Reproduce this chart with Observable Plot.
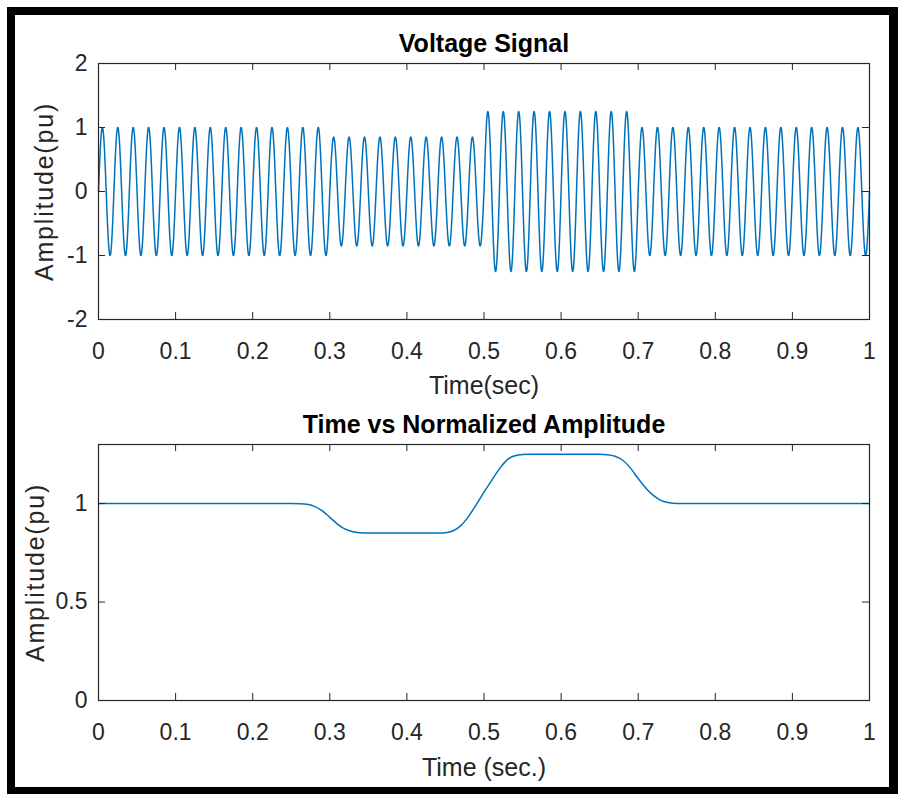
<!DOCTYPE html>
<html>
<head>
<meta charset="utf-8">
<script src="https://cdn.jsdelivr.net/npm/d3@7"></script>
<script src="https://cdn.jsdelivr.net/npm/@observablehq/plot@0.6"></script>
<style>
  html, body { margin: 0; padding: 0; background: #fff; }
  #figure { position: relative; width: 898px; height: 794px; background: #fff; overflow: hidden; }
  #figure .panel { position: absolute; left: 0; }
  #border {
    position: absolute; left: 7px; top: 7px; right: 0; bottom: 0;
    border-style: solid; border-color: #000;
    border-width: 8px 9px 7px 8px;
    box-sizing: border-box; pointer-events: none;
  }
</style>
</head>
<body>
<div id="figure">
  <div id="top" class="panel" style="top:0"></div>
  <div id="bottom" class="panel" style="top:397px"></div>
  <div id="border"></div>
</div>
<script>
// Voltage signal: a 50 Hz sine whose amplitude changes in steps (sag, then swell)
const frequencyHz = 50;
const segStart = [0.0, 0.3, 0.5, 0.7];
const segEnd = [0.3, 0.5, 0.7, 1.0];
const segAmplitude = [1.0, 0.85, 1.25, 1.0];

// Normalized amplitude envelope (pu) read at these instants
const envTime = [0.00, 0.10, 0.20, 0.25, 0.26, 0.27, 0.28, 0.29, 0.30, 0.31, 0.32, 0.33, 0.34, 0.35, 0.40,
                 0.44, 0.45, 0.46, 0.47, 0.48, 0.49, 0.50, 0.51, 0.52, 0.53, 0.54, 0.55, 0.56, 0.60,
                 0.65, 0.66, 0.67, 0.68, 0.69, 0.70, 0.71, 0.72, 0.73, 0.74, 0.75, 0.80, 0.90, 1.00];
const envValue = [1.000, 1.000, 1.000, 1.000, 0.999, 0.996, 0.986, 0.964, 0.930, 0.896, 0.870, 0.857, 0.852, 0.850, 0.850,
                  0.850, 0.852, 0.862, 0.888, 0.935, 0.995, 1.058, 1.118, 1.176, 1.222, 1.243, 1.249, 1.250, 1.250,
                  1.250, 1.248, 1.240, 1.220, 1.180, 1.127, 1.078, 1.040, 1.015, 1.004, 1.000, 1.000, 1.000, 1.000];

// Axis ticks
const xTicks = [0, 0.1, 0.2, 0.3, 0.4, 0.5, 0.6, 0.7, 0.8, 0.9, 1];
const yTicksTop = [-2, -1, 0, 1, 2];
const yTicksBottom = [0, 0.5, 1];

// Build the sampled waveform from the segment table
const dt = 0.0002;
const voltage = [];
for (let i = 0; i < segStart.length; i++) {
  const n = Math.round((segEnd[i] - segStart[i]) / dt);
  for (let k = 0; k <= n; k++) {
    const t = segStart[i] + k * dt;
    voltage.push({t, v: segAmplitude[i] * Math.sin(2 * Math.PI * frequencyHz * t)});
  }
}
const envelope = envTime.map((t, i) => ({t, a: envValue[i]}));

const FONT = "'Liberation Sans', Arial, Helvetica, sans-serif";
const AXIS = "#262626";
const BLUE = "#0072BD";
const W = 898, H = 397;
const mLeft = 98, mRight = 29;
const frameW = W - mLeft - mRight;
const TICK = 7;

function panel({title, xLabel, yLabel, yDomain, yTicks, data, x, y, curve, marginTop, marginBottom, xLabelDy, yLabelDx}) {
  const frameH = H - marginTop - marginBottom;
  const label = {textAnchor: "middle", lineAnchor: "middle", fontSize: 25};
  return Plot.plot({
    width: W,
    height: H,
    marginLeft: mLeft,
    marginRight: mRight,
    marginTop,
    marginBottom,
    style: {fontFamily: FONT, fontSize: "23px", color: AXIS, background: "transparent", overflow: "visible"},
    x: {domain: [0, 1], label: null},
    y: {domain: yDomain, label: null},
    marks: [
      Plot.line(data, {x, y, stroke: BLUE, strokeWidth: 1.5, curve}),
      Plot.frame({stroke: AXIS, strokeWidth: 1.2}),
      // inward ticks on all four sides
      Plot.tickX(xTicks, {x: d => d, stroke: AXIS, insetTop: frameH - TICK}),
      Plot.tickX(xTicks, {x: d => d, stroke: AXIS, insetBottom: frameH - TICK}),
      Plot.tickY(yTicks, {y: d => d, stroke: AXIS, insetRight: frameW - TICK}),
      Plot.tickY(yTicks, {y: d => d, stroke: AXIS, insetLeft: frameW - TICK}),
      Plot.axisX({ticks: xTicks, tickSize: 0, tickPadding: 23, tickFormat: d => String(d), fontSize: 23, label: null}),
      Plot.axisY({ticks: yTicks, tickSize: 0, tickPadding: 11, tickFormat: d => String(d), fontSize: 23, label: null}),
      Plot.text([title], {...label, text: d => d, frameAnchor: "top", dy: -19.5, fontWeight: "bold", fill: "#000"}),
      Plot.text([xLabel], {...label, text: d => d, frameAnchor: "bottom", dy: xLabelDy, fill: AXIS}),
      Plot.text([yLabel], {...label, text: d => d, frameAnchor: "left", rotate: -90, dx: yLabelDx, fill: AXIS})
    ]
  });
}

const topPlot = panel({
  title: "Voltage Signal",
  xLabel: "Time(sec)",
  yLabel: "Amplitude(pu)",
  yDomain: [-2, 2],
  yTicks: yTicksTop,
  data: voltage, x: "t", y: "v", curve: "linear",
  marginTop: 63, marginBottom: 78, xLabelDy: 66, yLabelDx: -54
});
const bottomPlot = panel({
  title: "Time vs Normalized Amplitude",
  xLabel: "Time (sec.)",
  yLabel: "Amplitude(pu)",
  yDomain: [0, 1.3],
  yTicks: yTicksBottom,
  data: envelope, x: "t", y: "a", curve: "monotone-x",
  marginTop: 47, marginBottom: 94, xLabelDy: 67, yLabelDx: -63
});
document.getElementById("top").append(topPlot);
document.getElementById("bottom").append(bottomPlot);

// Slightly wider tracking on the rotated axis titles
d3.selectAll("#figure text")
  .filter(function () {
    const own = this.getAttribute("transform") || "";
    const parent = (this.parentNode && this.parentNode.getAttribute("transform")) || "";
    return own.includes("rotate") || parent.includes("rotate");
  })
  .style("letter-spacing", "1.8px");
</script>
</body>
</html>
